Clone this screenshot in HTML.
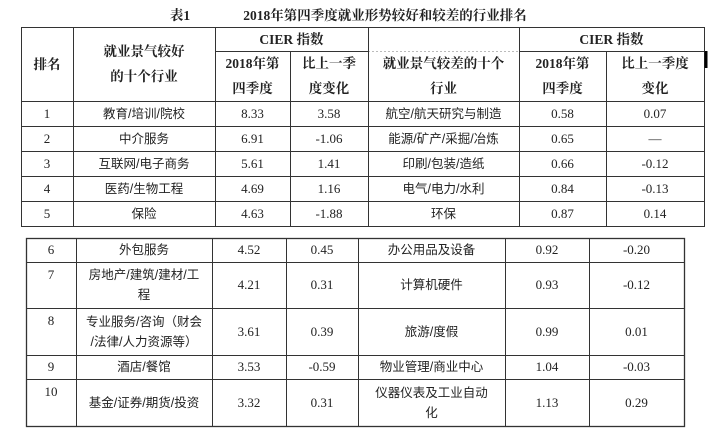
<!DOCTYPE html>
<html><head><meta charset="utf-8"><style>
body{margin:0;width:716px;height:445px;background:#fff;position:relative;overflow:hidden;font-family:"Liberation Serif","Noto Sans CJK SC",serif;color:#222}
.c{position:absolute;display:flex;align-items:center;justify-content:center;text-align:center;font-size:13px;line-height:20px}
.h{font-weight:bold;font-family:"Liberation Serif","Noto Serif CJK SC",serif;font-size:13.5px;line-height:25px}
.t{align-items:flex-start;padding-top:3px;box-sizing:border-box}
.z{font-family:"Liberation Sans","Noto Sans CJK SC",sans-serif;font-size:12.5px}
</style></head><body>
<div class="c h" style="left:150px;top:4px;width:60px;height:22px">表1</div>
<div class="c h" style="left:225px;top:4px;width:320px;height:22px">2018年第四季度就业形势较好和较差的行业排名</div>
<svg width="716" height="445" style="position:absolute;left:0;top:0" stroke="#333" stroke-width="1" fill="none">
<rect x="21.5" y="27.5" width="683" height="199"/>
<line x1="215" y1="51.5" x2="368" y2="51.5"/>
<line x1="368" y1="51.5" x2="519" y2="51.5" stroke="#bbb" stroke-dasharray="2,2"/>
<line x1="519" y1="51.5" x2="704" y2="51.5"/>
<line x1="21" y1="101.5" x2="704" y2="101.5"/>
<line x1="21" y1="126.5" x2="704" y2="126.5"/>
<line x1="21" y1="151.5" x2="704" y2="151.5"/>
<line x1="21" y1="176.5" x2="704" y2="176.5"/>
<line x1="21" y1="201.5" x2="704" y2="201.5"/>
<line x1="73.5" y1="27" x2="73.5" y2="226"/>
<line x1="215.5" y1="27" x2="215.5" y2="226"/>
<line x1="368.5" y1="27" x2="368.5" y2="226"/>
<line x1="519.5" y1="27" x2="519.5" y2="226"/>
<line x1="290.5" y1="51" x2="290.5" y2="226"/>
<line x1="606.5" y1="51" x2="606.5" y2="226"/>
<line x1="706" y1="51" x2="706" y2="68" stroke="#000" stroke-width="3"/>
<rect x="26.5" y="238.5" width="658" height="188" stroke-width="1.3"/>
<line x1="26" y1="262.5" x2="684" y2="262.5"/>
<line x1="26" y1="308.5" x2="684" y2="308.5"/>
<line x1="26" y1="355.5" x2="684" y2="355.5"/>
<line x1="26" y1="379.5" x2="684" y2="379.5"/>
<line x1="76.5" y1="238" x2="76.5" y2="427"/>
<line x1="212.5" y1="238" x2="212.5" y2="427"/>
<line x1="286.5" y1="238" x2="286.5" y2="427"/>
<line x1="358.5" y1="238" x2="358.5" y2="427"/>
<line x1="505.5" y1="238" x2="505.5" y2="427"/>
<line x1="589.5" y1="238" x2="589.5" y2="427"/>
</svg>
<div class="c h" style="left:21px;top:27px;width:52px;height:74px">排名</div>
<div class="c h" style="left:73px;top:27px;width:142px;height:74px">就业景气较好<br>的十个行业</div>
<div class="c h" style="left:215px;top:27px;width:153px;height:24px">CIER 指数</div>
<div class="c h" style="left:215px;top:51px;width:75px;height:50px">2018年第<br>四季度</div>
<div class="c h" style="left:290px;top:51px;width:78px;height:50px">比上一季<br>度变化</div>
<div class="c h" style="left:368px;top:51px;width:151px;height:50px">就业景气较差的十个<br>行业</div>
<div class="c h" style="left:519px;top:27px;width:185px;height:24px">CIER 指数</div>
<div class="c h" style="left:519px;top:51px;width:87px;height:50px">2018年第<br>四季度</div>
<div class="c h" style="left:606px;top:51px;width:98px;height:50px">比上一季度<br>变化</div>
<div class="c" style="left:21px;top:101px;width:52px;height:25px">1</div><div class="c z" style="left:73px;top:101px;width:142px;height:25px">教育/培训/院校</div><div class="c" style="left:215px;top:101px;width:75px;height:25px">8.33</div><div class="c" style="left:290px;top:101px;width:78px;height:25px">3.58</div><div class="c z" style="left:368px;top:101px;width:151px;height:25px">航空/航天研究与制造</div><div class="c" style="left:519px;top:101px;width:87px;height:25px">0.58</div><div class="c" style="left:606px;top:101px;width:98px;height:25px">0.07</div>
<div class="c" style="left:21px;top:126px;width:52px;height:25px">2</div><div class="c z" style="left:73px;top:126px;width:142px;height:25px">中介服务</div><div class="c" style="left:215px;top:126px;width:75px;height:25px">6.91</div><div class="c" style="left:290px;top:126px;width:78px;height:25px">-1.06</div><div class="c z" style="left:368px;top:126px;width:151px;height:25px">能源/矿产/采掘/冶炼</div><div class="c" style="left:519px;top:126px;width:87px;height:25px">0.65</div><div class="c" style="left:606px;top:126px;width:98px;height:25px">—</div>
<div class="c" style="left:21px;top:151px;width:52px;height:25px">3</div><div class="c z" style="left:73px;top:151px;width:142px;height:25px">互联网/电子商务</div><div class="c" style="left:215px;top:151px;width:75px;height:25px">5.61</div><div class="c" style="left:290px;top:151px;width:78px;height:25px">1.41</div><div class="c z" style="left:368px;top:151px;width:151px;height:25px">印刷/包装/造纸</div><div class="c" style="left:519px;top:151px;width:87px;height:25px">0.66</div><div class="c" style="left:606px;top:151px;width:98px;height:25px">-0.12</div>
<div class="c" style="left:21px;top:176px;width:52px;height:25px">4</div><div class="c z" style="left:73px;top:176px;width:142px;height:25px">医药/生物工程</div><div class="c" style="left:215px;top:176px;width:75px;height:25px">4.69</div><div class="c" style="left:290px;top:176px;width:78px;height:25px">1.16</div><div class="c z" style="left:368px;top:176px;width:151px;height:25px">电气/电力/水利</div><div class="c" style="left:519px;top:176px;width:87px;height:25px">0.84</div><div class="c" style="left:606px;top:176px;width:98px;height:25px">-0.13</div>
<div class="c" style="left:21px;top:201px;width:52px;height:25px">5</div><div class="c z" style="left:73px;top:201px;width:142px;height:25px">保险</div><div class="c" style="left:215px;top:201px;width:75px;height:25px">4.63</div><div class="c" style="left:290px;top:201px;width:78px;height:25px">-1.88</div><div class="c z" style="left:368px;top:201px;width:151px;height:25px">环保</div><div class="c" style="left:519px;top:201px;width:87px;height:25px">0.87</div><div class="c" style="left:606px;top:201px;width:98px;height:25px">0.14</div>
<div class="c" style="left:26px;top:238px;width:50px;height:24px">6</div><div class="c z" style="left:76px;top:238px;width:136px;height:24px">外包服务</div><div class="c" style="left:212px;top:238px;width:74px;height:24px">4.52</div><div class="c" style="left:286px;top:238px;width:72px;height:24px">0.45</div><div class="c z" style="left:358px;top:238px;width:147px;height:24px">办公用品及设备</div><div class="c" style="left:505px;top:238px;width:84px;height:24px">0.92</div><div class="c" style="left:589px;top:238px;width:95px;height:24px">-0.20</div>
<div class="c t" style="left:26px;top:262px;width:50px;height:46px">7</div><div class="c z" style="left:76px;top:262px;width:136px;height:46px">房地产/建筑/建材/工<br>程</div><div class="c" style="left:212px;top:262px;width:74px;height:46px">4.21</div><div class="c" style="left:286px;top:262px;width:72px;height:46px">0.31</div><div class="c z" style="left:358px;top:262px;width:147px;height:46px">计算机硬件</div><div class="c" style="left:505px;top:262px;width:84px;height:46px">0.93</div><div class="c" style="left:589px;top:262px;width:95px;height:46px">-0.12</div>
<div class="c t" style="left:26px;top:308px;width:50px;height:47px">8</div><div class="c z" style="left:76px;top:308px;width:136px;height:47px">专业服务/咨询（财会<br>/法律/人力资源等）</div><div class="c" style="left:212px;top:308px;width:74px;height:47px">3.61</div><div class="c" style="left:286px;top:308px;width:72px;height:47px">0.39</div><div class="c z" style="left:358px;top:308px;width:147px;height:47px">旅游/度假</div><div class="c" style="left:505px;top:308px;width:84px;height:47px">0.99</div><div class="c" style="left:589px;top:308px;width:95px;height:47px">0.01</div>
<div class="c" style="left:26px;top:355px;width:50px;height:24px">9</div><div class="c z" style="left:76px;top:355px;width:136px;height:24px">酒店/餐馆</div><div class="c" style="left:212px;top:355px;width:74px;height:24px">3.53</div><div class="c" style="left:286px;top:355px;width:72px;height:24px">-0.59</div><div class="c z" style="left:358px;top:355px;width:147px;height:24px">物业管理/商业中心</div><div class="c" style="left:505px;top:355px;width:84px;height:24px">1.04</div><div class="c" style="left:589px;top:355px;width:95px;height:24px">-0.03</div>
<div class="c t" style="left:26px;top:379px;width:50px;height:48px">10</div><div class="c z" style="left:76px;top:379px;width:136px;height:48px">基金/证券/期货/投资</div><div class="c" style="left:212px;top:379px;width:74px;height:48px">3.32</div><div class="c" style="left:286px;top:379px;width:72px;height:48px">0.31</div><div class="c z" style="left:358px;top:379px;width:147px;height:48px">仪器仪表及工业自动<br>化</div><div class="c" style="left:505px;top:379px;width:84px;height:48px">1.13</div><div class="c" style="left:589px;top:379px;width:95px;height:48px">0.29</div>
</body></html>
